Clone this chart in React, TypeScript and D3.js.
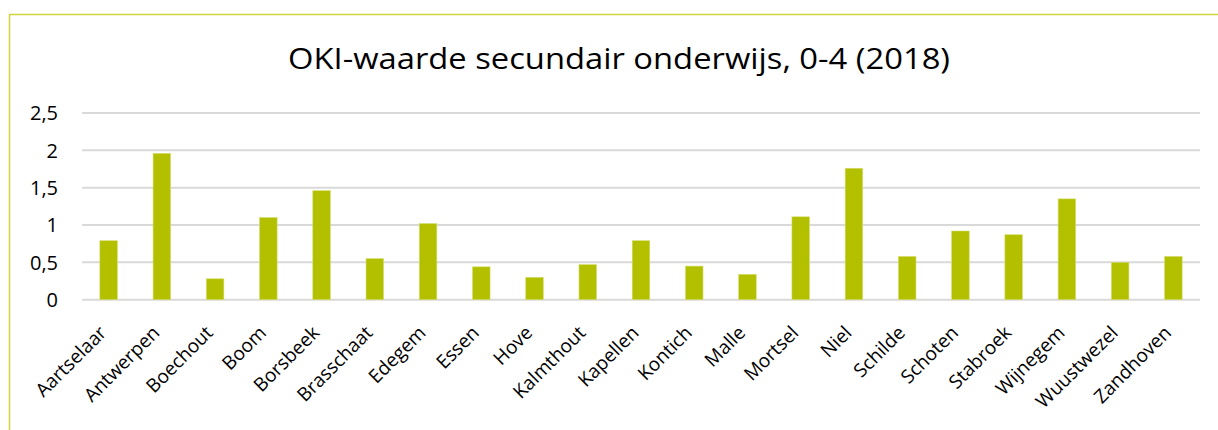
import React from "react";
import * as d3 from "d3";

const categories = [
  "Aartselaar", "Antwerpen", "Boechout", "Boom", "Borsbeek", "Brasschaat", "Edegem",
  "Essen", "Hove", "Kalmthout", "Kapellen", "Kontich", "Malle", "Mortsel", "Niel",
  "Schilde", "Schoten", "Stabroek", "Wijnegem", "Wuustwezel", "Zandhoven",
];
const values = [
  0.79, 1.96, 0.28, 1.10, 1.46, 0.55, 1.02,
  0.44, 0.30, 0.47, 0.79, 0.45, 0.34, 1.11, 1.76,
  0.58, 0.92, 0.87, 1.35, 0.50, 0.58,
];
const yTicks = [0, 0.5, 1, 1.5, 2, 2.5];
const title = "OKI-waarde secundair onderwijs, 0-4 (2018)";

const W = 1218;
const H = 430;
const FONT = "'Open Sans', 'Noto Sans', sans-serif";

export default function App() {
  const x = d3.scaleBand<string>().domain(categories).range([82, 1200]).paddingInner(0.67).paddingOuter(0.335);
  const y = d3.scaleLinear().domain([0, 2.5]).range([299.7, 113]);
  const fmt = (v: number) => String(v).replace(".", ",");

  return (
    <svg width={W} height={H} style={{ position: "absolute", left: 0, top: 0, background: "#fff" }}>
      <rect x={0} y={0} width={W} height={H} fill="#fff" />
      <path d={`M9.5,${H} V14.5 H${W}`} fill="none" stroke="#cdd63c" strokeWidth={1.5} />
      <text x={619} y={69} textAnchor="middle" fontFamily={FONT} fontSize={29.5} fill="#000"
        textLength={662} lengthAdjust="spacingAndGlyphs">{title}</text>
      {yTicks.map((t) => (
        <g key={t}>
          <line x1={82} x2={1200} y1={y(t)} y2={y(t)} stroke="#d9d9d9" strokeWidth={2} />
          <text x={58} y={y(t)} dy="0.36em" textAnchor="end" fontFamily={FONT} fontSize={20} fill="#000">{fmt(t)}</text>
        </g>
      ))}
      {categories.map((c, i) => (
        <rect key={c} x={x(c)} y={y(values[i])} width={x.bandwidth()} height={y(0) - y(values[i])}
          fill="#b2c000" stroke="#d6de72" strokeWidth={0.6} />
      ))}
      {categories.map((c) => {
        const cx = (x(c) as number) + x.bandwidth() / 2 - 1;
        const cy = 334;
        return (
          <text key={c} transform={`translate(${cx},${cy}) rotate(-45)`} textAnchor="end"
            fontFamily={FONT} fontSize={19} fill="#000">{c}</text>
        );
      })}
    </svg>
  );
}
